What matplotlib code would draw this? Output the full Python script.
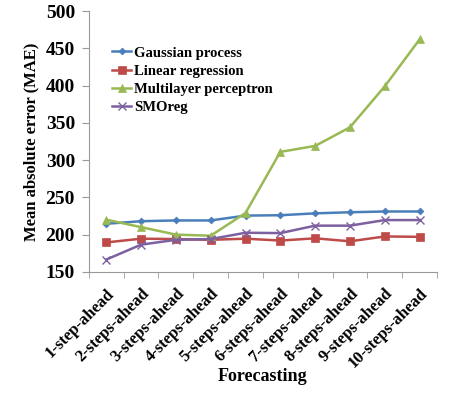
import numpy as np
import matplotlib
matplotlib.use("Agg")
import matplotlib.pyplot as plt

categories = ["1-step-ahead", "2-steps-ahead", "3-steps-ahead", "4-steps-ahead",
              "5-steps-ahead", "6-steps-ahead", "7-steps-ahead", "8-steps-ahead",
              "9-steps-ahead", "10-steps-ahead"]
gaussian = [214.5, 218, 219, 219, 225.5, 226, 228.5, 230, 231, 231]
linear = [189.5, 194.5, 194, 193, 194.5, 192, 195, 191, 197.5, 197]
mlp = [220, 210, 200, 198.5, 229, 311, 319, 344, 399, 462]
smoreg = [166.5, 186.5, 193, 194, 202.5, 202, 212, 212, 219.5, 219.5]

series = [
    ("Gaussian process", gaussian, "#4A7EBB", "D", 3.5),
    ("Linear regression", linear, "#BE4B48", "s", 5.5),
    ("Multilayer perceptron", mlp, "#98B954", "^", 5.5),
    ("SMOreg", smoreg, "#7D60A0", "x", 6),
]

plt.rcParams["font.family"] = ["Liberation Serif", "DejaVu Serif"]
plt.rcParams["font.weight"] = "bold"

fig = plt.figure(figsize=(4.51, 3.94), dpi=100)
ax = fig.add_axes([0.197, 0.31, 0.772, 0.662])

x = np.arange(len(categories))
for name, vals, color, marker, ms in series:
    ax.plot(x, vals, color=color, lw=1.8, marker=marker, ms=ms,
            markeredgewidth=1.0 if marker == "x" else 0.5, label=name)

ax.set_xlim(-0.5, len(categories) - 0.5)
ax.set_ylim(150, 500)
ax.set_yticks(np.arange(150, 501, 50))
ax.set_xticks(x)
ax.set_xticklabels(categories, rotation=45, ha="right", rotation_mode="anchor",
                   fontsize=12, fontweight="bold")
ax.set_xticks(np.arange(-0.5, len(categories), 1), minor=True)
ax.tick_params(axis="x", which="major", length=0, pad=10)
ax.tick_params(axis="x", which="minor", length=4, color="#999999")
ax.tick_params(axis="y", length=5, color="#999999", labelsize=14, pad=5)
for lab in ax.get_yticklabels():
    lab.set_fontweight("bold")

for s in ["top", "right"]:
    ax.spines[s].set_visible(False)
for s in ["left", "bottom"]:
    ax.spines[s].set_color("#999999")
    ax.spines[s].set_linewidth(0.8)

ax.set_ylabel("Mean absolute error (MAE)", fontsize=12, fontweight="bold",
              va="center")
ax.yaxis.set_label_coords(-0.164, 0.5)
ax.set_xlabel("Forecasting", fontsize=13, fontweight="bold", va="center")
ax.xaxis.set_label_coords(0.5, -0.403)

leg = ax.legend(loc="upper left", bbox_to_anchor=(0.03, 0.915), frameon=False,
                handlelength=1.3, handletextpad=0.2, labelspacing=0.35,
                prop={"size": 10.5, "weight": "bold"})

fig.savefig("out.png", dpi=100)
